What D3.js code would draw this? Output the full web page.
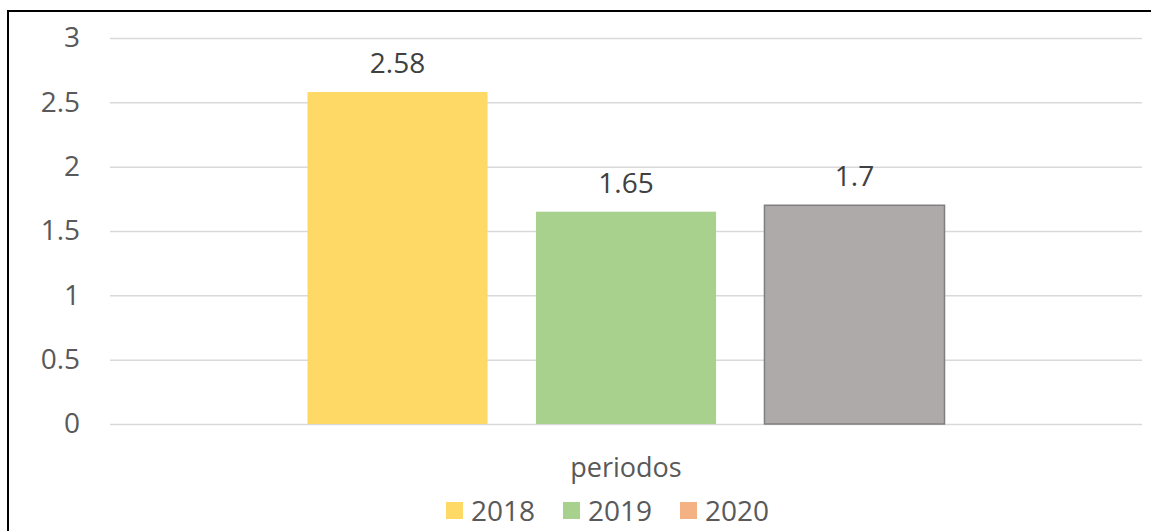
<!DOCTYPE html>
<html>
<head>
<meta charset="utf-8">
<script src="https://cdn.jsdelivr.net/npm/d3@7"></script>
<style>
  body { margin: 0; background: #fff; }
  svg text { font-family: "Open Sans", "Liberation Sans", sans-serif; }
</style>
</head>
<body>
<div id="chart"></div>
<script>
// data
let categories = ["periodos"];
let series = ["2018", "2019", "2020"];
let values = [2.58, 1.65, 1.7];
let barColors = ["#FFD966", "#A9D18E", "#AEAAAA"];
let barStrokes = ["none", "none", "#7F7F7F"];
let legendColors = ["#FFD966", "#A9D18E", "#F4B183"];
let yTicks = [0, 0.5, 1, 1.5, 2, 2.5, 3];

let w = 1151, h = 531;
let svg = d3.select("#chart").append("svg").attr("width", w).attr("height", h);

// outer frame (runs past the right and bottom edge like the picture)
svg.append("rect").attr("x", 8).attr("y", 11).attr("width", 1300).attr("height", 700)
  .style("fill", "none").style("stroke", "#000").style("stroke-width", 2);

let pLeft = 110, pRight = 1142, pTop = 38, pBottom = 424;

let y = d3.scaleLinear().domain([0, 3]).range([pBottom, pTop]);
let x0 = d3.scaleBand().domain(categories).range([pLeft, pRight]).paddingInner(0).paddingOuter(0.31);
let x1 = d3.scaleBand().domain(series).range([0, x0.bandwidth()]).paddingInner(0.212).paddingOuter(0);

// gridlines + y labels
let yAxis = d3.axisLeft(y).tickValues(yTicks).tickSize(-(pRight - pLeft)).tickPadding(30)
  .tickFormat(d3.format("~g"));
let gy = svg.append("g").attr("transform", "translate(" + pLeft + ",0)").call(yAxis);
gy.select(".domain").remove();
gy.selectAll(".tick line").style("stroke", "#D9D9D9").style("stroke-width", 1.5);
gy.selectAll(".tick text").style("fill", "#595959").style("font-size", "28px");

// bars
let g = svg.append("g").attr("transform", "translate(" + x0(categories[0]) + ",0)");
g.selectAll("rect").data(values).join("rect")
  .attr("x", (d, i) => x1(series[i]))
  .attr("width", x1.bandwidth())
  .attr("y", d => y(d))
  .attr("height", d => y(0) - y(d))
  .style("fill", (d, i) => barColors[i])
  .style("stroke", (d, i) => barStrokes[i])
  .style("stroke-width", 1.5);

// data labels
g.selectAll("text.lbl").data(values).join("text").attr("class", "lbl")
  .attr("x", (d, i) => x1(series[i]) + x1.bandwidth() / 2)
  .attr("y", d => y(d) - 19)
  .attr("text-anchor", "middle")
  .style("fill", "#404040").style("font-size", "28px")
  .text(d => d);

// axis title
svg.append("text").attr("x", x0(categories[0]) + x0.bandwidth() / 2).attr("y", 477)
  .attr("text-anchor", "middle").style("fill", "#595959").style("font-size", "27px")
  .text(categories[0]);

// legend
let legX = [446, 563, 680];
let lg = svg.append("g");
series.forEach(function (s, i) {
  lg.append("rect").attr("x", legX[i]).attr("y", 502).attr("width", 17).attr("height", 17)
    .style("fill", legendColors[i]);
  lg.append("text").attr("x", legX[i] + 25).attr("y", 521)
    .style("fill", "#595959").style("font-size", "28px").text(s);
});
</script>
</body>
</html>
